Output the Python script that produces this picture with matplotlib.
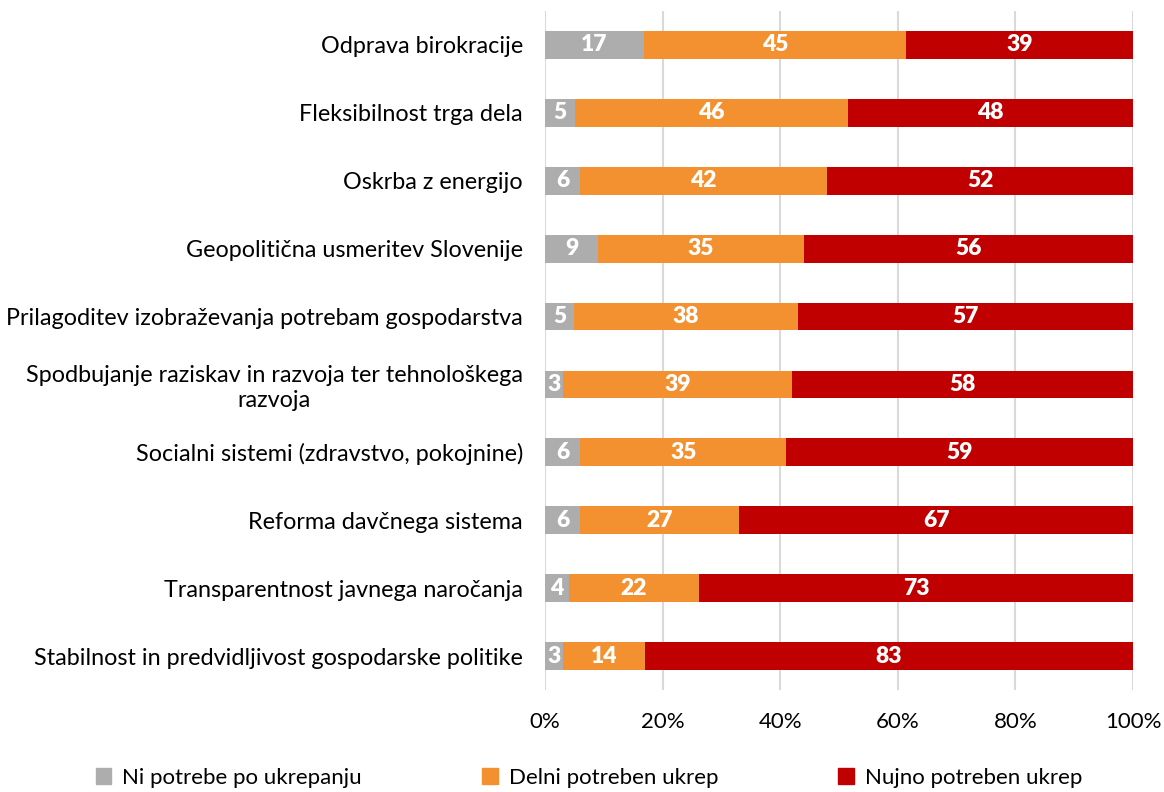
import matplotlib
matplotlib.use("Agg")
import matplotlib.pyplot as plt
import numpy as np
from matplotlib.patches import Patch

categories = [
    "Odprava birokracije",
    "Fleksibilnost trga dela",
    "Oskrba z energijo",
    "Geopolitična usmeritev Slovenije",
    "Prilagoditev izobraževanja potrebam gospodarstva",
    "Spodbujanje raziskav in razvoja ter tehnološkega\nrazvoja",
    "Socialni sistemi (zdravstvo, pokojnine)",
    "Reforma davčnega sistema",
    "Transparentnost javnega naročanja",
    "Stabilnost in predvidljivost gospodarske politike",
]
ni_potrebe = [17, 5, 6, 9, 5, 3, 6, 6, 4, 3]
delni = [45, 46, 42, 35, 38, 39, 35, 27, 22, 14]
nujno = [39, 48, 52, 56, 57, 58, 59, 67, 73, 83]
series_names = ["Ni potrebe po ukrepanju", "Delni potreben ukrep", "Nujno potreben ukrep"]
colors = ["#ADADAD", "#F39130", "#C00000"]
xticks = [0, 20, 40, 60, 80, 100]

plt.rcParams['font.family'] = ['Lato', 'DejaVu Sans']

fig = plt.figure(figsize=(11.64, 7.92), dpi=100)
ax = fig.add_axes([545/1164, 1-690/792, (1133-545)/1164, (690-11)/792])

data = np.array([ni_potrebe, delni, nujno], dtype=float)
totals = data.sum(axis=0)
pct = data / totals * 100

y = np.arange(len(categories))
left = np.zeros(len(categories))
for i in range(3):
    bars = ax.barh(y, pct[i], left=left, height=0.41, color=colors[i], zorder=3)
    for j, b in enumerate(bars):
        ax.text(left[j] + pct[i][j] / 2, y[j], str(int(data[i][j])),
                ha='center', va='center', color='white', fontsize=16.5,
                fontweight='heavy', zorder=4)
    left += pct[i]

ax.set_ylim(len(categories) - 0.5, -0.5)
ax.set_xlim(0, 100)
ax.set_yticks(y)
ax.set_yticklabels(categories, fontsize=16.8, multialignment='center')
ax.set_xticks(xticks)
ax.set_xticklabels([f"{t}%" for t in xticks], fontsize=16)
ax.tick_params(axis='both', length=0)
ax.tick_params(axis='y', pad=16)
ax.tick_params(axis='x', pad=16)
for s in ax.spines.values():
    s.set_visible(False)
ax.grid(axis='x', color='#D9D9D9', linewidth=1.5, zorder=0)
ax.set_axisbelow(True)

handles = [Patch(color=c) for c in colors]
fig.legend(handles, series_names, loc='center', bbox_to_anchor=(0.506, 1-778/792),
           ncol=3, frameon=False, fontsize=16, handlelength=0.7, handleheight=0.7,
           handletextpad=0.5, columnspacing=5.4)

fig.savefig("out.png", dpi=100)
